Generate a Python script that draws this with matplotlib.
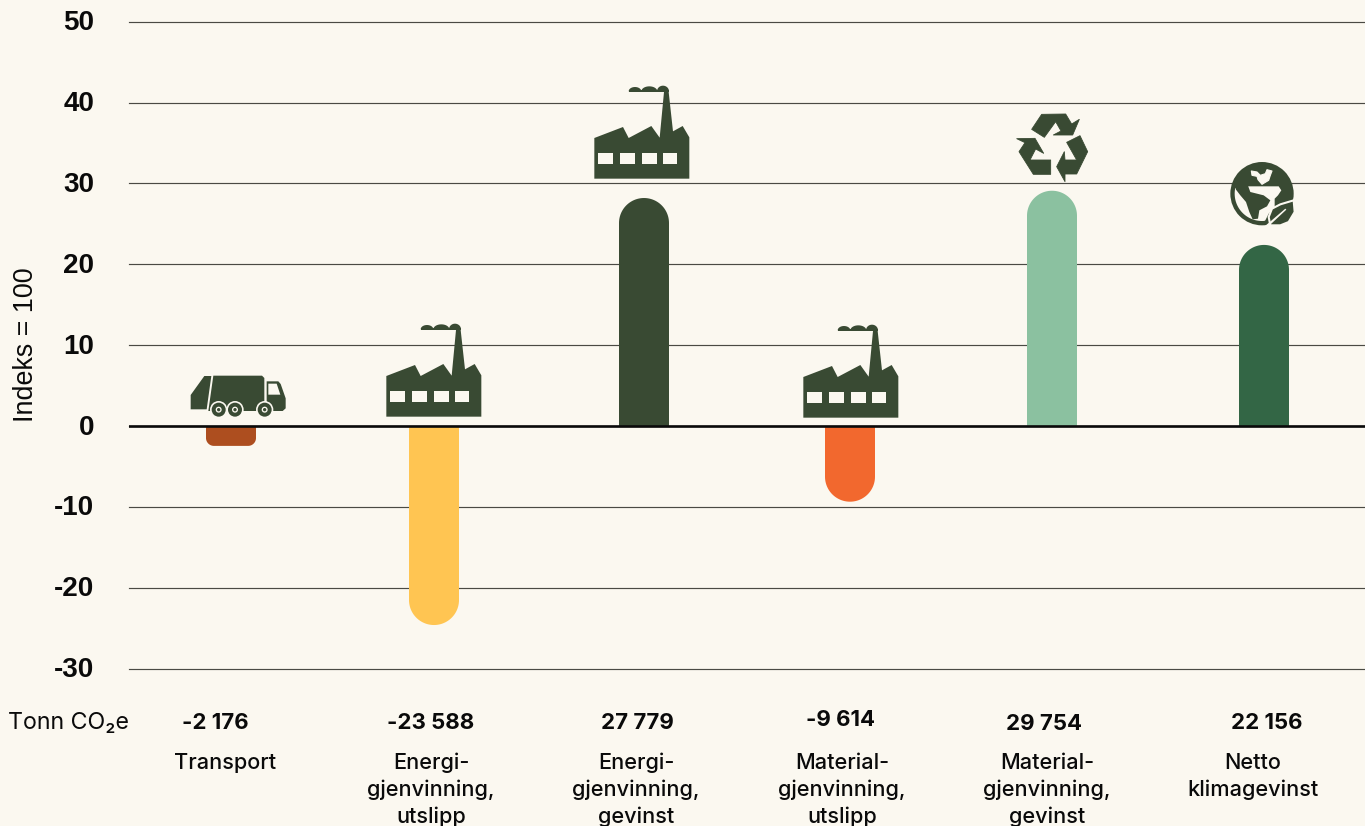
import numpy as np
import matplotlib
matplotlib.use("Agg")
import matplotlib.pyplot as plt
from matplotlib.patches import Circle, Polygon
from matplotlib.transforms import ScaledTranslation

plt.rcParams["axes.unicode_minus"] = False

W, H = 1365, 826
BG = "#FBF8F0"
DARK = "#394A33"

# chart data
categories = ["Transport", "Energi-\ngjenvinning,\nutslipp", "Energi-\ngjenvinning,\ngevinst",
              "Material-\ngjenvinning,\nutslipp", "Material-\ngjenvinning,\ngevinst", "Netto\nklimagevinst"]
index_values = [-2.45, -24.6, 28.2, -9.35, 29.1, 22.4]
tonn_labels = ["-2 176", "-23 588", "27 779", "-9 614", "29 754", "22 156"]
bar_colors = ["#AD4E1F", "#FFC552", "#394A33", "#F2682E", "#8BC1A0", "#336645"]
y_ticks = [-30, -20, -10, 0, 10, 20, 30, 40, 50]

# layout, in reference pixels
bar_x = [231, 434, 644, 850, 1052, 1264]
tonn_x = [215, 431, 637, 841, 1044, 1267]
tonn_y = [723, 723, 723, 720, 724, 723]
cat_x = [225, 431, 636, 842, 1047, 1253]

fig = plt.figure(figsize=(W / 100, H / 100), dpi=100, facecolor=BG)
ax = fig.add_axes([129 / W, 1 - 668.7 / H, (W - 129) / W, (668.7 - 21.7) / H], facecolor=BG)
ax.set_xlim(129, W)
ax.set_ylim(-30, 50)
px_per_unit = 647 / 80

for s in ax.spines.values():
    s.set_visible(False)
ax.set_xticks([])
ax.set_yticks(y_ticks)
ax.tick_params(axis="y", length=0, pad=25)
shift = ScaledTranslation(0, 1.5 / 100, fig.dpi_scale_trans)
for lab in ax.get_yticklabels():
    lab.set_fontfamily("Liberation Sans")
    lab.set_fontweight("bold")
    lab.set_fontsize(20)
    lab.set_color("#0A0A0A")
    lab.set_transform(lab.get_transform() + shift)
for t in y_ticks:
    ln = ax.axhline(t, color="#4A4A44", lw=0.85, zorder=1)
    ln.set_clip_on(False)
ax.axhline(0, color="#0A0A0A", lw=1.9, zorder=4)


def rounded_bar(x, v, color, half=25):
    # flat at zero, rounded at the outer end
    r = min(half, abs(v) * px_per_unit * 0.4)
    sign = np.sign(v)
    t = np.linspace(0, np.pi / 2, 24)
    ry = r / px_per_unit
    right_x = x + half - r + r * np.cos(t)
    right_y = v - sign * ry + sign * ry * np.sin(t)
    left_x = x - half + r - r * np.sin(t)
    left_y = v - sign * ry + sign * ry * np.cos(t)
    xs = np.r_[x + half, right_x, left_x, x - half]
    ys = np.r_[0, right_y, left_y, 0]
    ax.fill(xs, ys, color=color, lw=0, zorder=3)


for x, v, c in zip(bar_x, index_values, bar_colors):
    rounded_bar(x, v, c)

# overlay in pixel coordinates for icons and labels
ov = fig.add_axes([0, 0, 1, 1], facecolor="none")
ov.set_xlim(0, W)
ov.set_ylim(H, 0)
ov.axis("off")


def poly(pts, ox, oy, color=DARK, z=5, edge=None, lw=0, scale=1 / 3):
    pts = np.array(pts, dtype=float) * scale + [ox, oy]
    ov.add_patch(Polygon(pts, closed=True, fc=color, ec=edge or "none", lw=lw, joinstyle="round", zorder=z))


def circ(cx, cy, r, ox, oy, color=DARK, z=5, scale=1 / 3):
    ov.add_patch(Circle((cx * scale + ox, cy * scale + oy), r * scale, fc=color, ec="none", zorder=z))


def factory(dx, dy):
    ox, oy = 170 + dx, 310 + dy
    poly([(649, 198), (735, 165), (752, 198), (820, 162), (845, 197), (858, 60), (872, 60),
          (885, 178), (914, 162), (934, 196), (934, 320), (649, 320)], ox, oy)
    for wx in [661, 726, 792, 854]:
        poly([(wx, 243), (wx + 44, 243), (wx + 44, 277), (wx, 277)], ox, oy, BG, 6)
    # smoke
    for cx, w, top in [(771, 19, 13), (814, 24, 15), (855, 18, 17)]:
        t = np.linspace(0, np.pi, 20)
        poly(np.c_[cx + w * np.cos(t), 58 - top * np.sin(t)], ox, oy)
    poly([(752, 54), (873, 54), (873, 59), (752, 59)], ox, oy)


def truck(ox, oy):
    poly([(62, 255), (103, 198), (124, 198), (110, 298), (62, 298)], ox, oy)
    poly([(130, 197), (276, 197), (283, 204), (283, 303), (115, 303)], ox, oy)
    poly([(290, 214), (325, 214), (332, 222), (347, 265), (347, 295), (338, 303), (290, 303)], ox, oy)
    poly([(295, 221), (320, 221), (331, 254), (295, 254)], ox, oy, BG, 6)
    for cx in [146, 195, 284]:
        circ(cx, 299, 26, ox, oy, BG, 6)
        circ(cx, 299, 21, ox, oy, DARK, 7)
        circ(cx, 299, 9, ox, oy, BG, 8)
        circ(cx, 299, 5, ox, oy, DARK, 9)


def recycle(ox, oy):
    kw = dict(edge=DARK, lw=0.6)
    poly([(95, 88), (125, 43), (197, 42), (215, 72), (238, 58), (218, 105), (160, 105),
          (183, 93), (167, 65), (133, 112)], ox, oy, **kw)
    poly([(200, 127), (240, 107), (263, 155), (230, 222), (195, 222), (195, 245), (170, 200),
          (193, 155), (195, 180), (230, 180)], ox, oy, **kw)
    poly([(50, 116), (105, 115), (131, 160), (107, 147), (90, 180), (152, 180), (152, 223),
          (100, 223), (57, 155), (75, 128)], ox, oy, **kw)


def globe(ox, oy):
    circ(120, 110, 95, ox, oy)
    # ocean: inner part of the ring, lower left
    a = np.radians(np.linspace(85, 192, 40))
    arc = np.c_[120 + 82 * np.cos(a), 110 + 82 * np.sin(a)]
    poly(np.r_[[(78, 88), (170, 88), (178, 100), (168, 115), (158, 125), (158, 150), (140, 170), (130, 190)], arc],
         ox, oy, BG, 6)
    # continent
    poly([(38, 86), (78, 86), (85, 105), (125, 115), (145, 130), (135, 148), (112, 160), (108, 185),
          (92, 187), (82, 165), (72, 135), (55, 115), (42, 98)], ox, oy, DARK, 7)
    poly([(88, 42), (105, 45), (115, 55), (130, 50), (135, 38), (150, 42), (145, 55), (140, 70),
          (120, 82), (108, 68), (105, 58), (90, 55)], ox, oy, BG, 6, edge=BG, lw=0.8)
    # leaf
    poly([(140, 180), (150, 155), (175, 142), (215, 130), (218, 165), (200, 195), (175, 205), (145, 205)],
         ox, oy, DARK, 9, edge=BG, lw=1.5)
    poly([(128, 208), (190, 155), (193, 158), (134, 213)], ox, oy, BG, 10)


truck(170, 310)
factory(0, 0)
factory(208, -238)
factory(417, 1)
recycle(1000, 100)
globe(1222, 157)

LABEL_FONT = ["Inter", "DejaVu Sans"]
for x, y, s in zip(tonn_x, tonn_y, tonn_labels):
    ov.text(x, y, s, ha="center", va="center", family=LABEL_FONT, weight="bold", fontsize=16, color="#0A0A0A")
for x, s in zip(cat_x, categories):
    for i, line in enumerate(s.split("\n")):
        ov.text(x, 763 + 27 * i, line, ha="center", va="center", family=LABEL_FONT, weight="medium",
                fontsize=15.6, color="#0A0A0A")
ov.text(68, 723, "Tonn CO₂e", ha="center", va="center", family=LABEL_FONT, fontsize=16.7, color="#0A0A0A")
ov.text(26, 345, "Indeks = 100", rotation=90, ha="center", va="center", family="Liberation Sans",
        fontsize=19.4, color="#0A0A0A")

fig.savefig("out.png", dpi=100, facecolor=BG)
